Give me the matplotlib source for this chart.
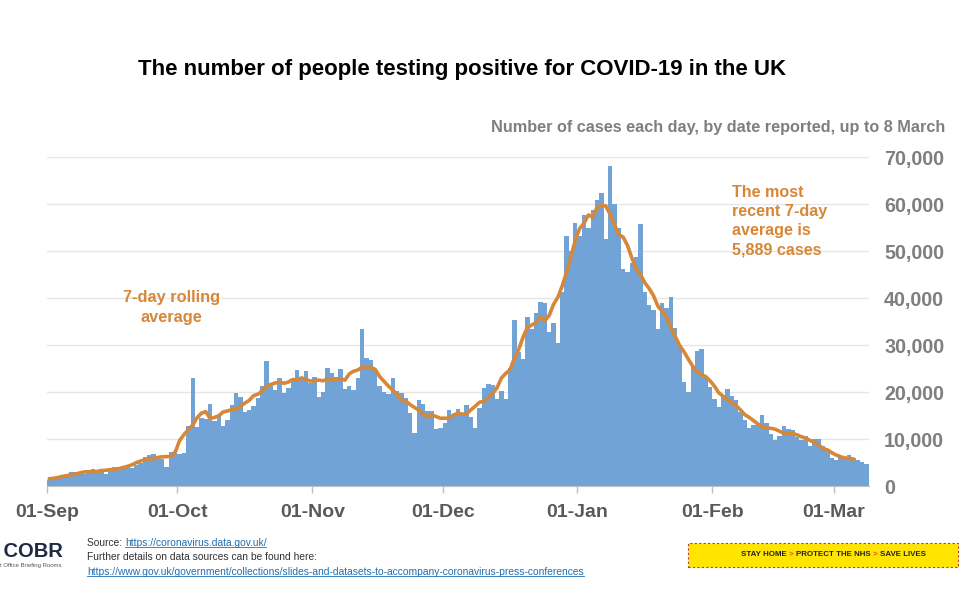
import numpy as np
import pandas as pd
import matplotlib.pyplot as plt
from matplotlib.patches import Rectangle

plt.rcParams['font.family'] = ['Liberation Sans', 'DejaVu Sans']

# Daily cases by date reported, 1 Sep 2020 - 8 Mar 2021
aug_tail = [1108, 1715, 1406]  # only used for the centred average at the start
sep = [1295, 1508, 1735, 1940, 1813, 2988, 2948, 2460, 2659, 2919,
       3539, 3497, 3330, 2621, 3105, 3991, 3395, 4322, 4422, 3899,
       4368, 4926, 6178, 6634, 6874, 6042, 5693, 4044, 7143, 7108]
oct_ = [6914, 6968, 12872, 22961, 12594, 14542, 14162, 17540, 13864, 15166,
        12872, 13972, 17234, 19724, 18980, 15650, 16171, 16982, 18804, 21331,
        26688, 21242, 20530, 23012, 19790, 20890, 22885, 24701, 23065, 24405,
        21915]
nov = [23254, 18950, 20018, 25177, 24141, 23287, 24957, 20572, 21350, 20412,
       22950, 33470, 27301, 26860, 24962, 21363, 20051, 19609, 22915, 20252,
       19875, 18662, 15450, 11299, 18213, 17555, 16022, 15871, 12155, 12330]
dec = [13430, 16170, 14879, 16298, 15539, 17272, 14718, 12282, 16578, 20964,
       21672, 21502, 18447, 20263, 18450, 25161, 35383, 28507, 27052, 35928,
       33364, 36804, 39237, 39036, 32725, 34693, 30501, 41385, 53135, 50023,
       55892]
jan = [53285, 57725, 54990, 58784, 60916, 62322, 52618, 68053, 59937, 54940,
       46169, 45533, 47525, 48682, 55761, 41346, 38598, 37535, 33355, 38905,
       37892, 40261, 33552, 30004, 22195, 20089, 25308, 28680, 29079, 23275,
       21088]
feb = [18607, 16840, 19202, 20634, 19114, 18262, 15845, 14104, 12364, 13013,
       13494, 15144, 13308, 10972, 9765, 10625, 12718, 12057, 12027, 10406,
       9834, 10641, 8489, 9938, 9985, 8523, 7434, 6035]
mar = [5455, 6391, 5766, 6573, 6040, 5534, 5177, 4712]

month_labels = ['01-Sep', '01-Oct', '01-Nov', '01-Dec', '01-Jan', '01-Feb', '01-Mar']
months = [sep, oct_, nov, dec, jan, feb, mar]

cases = np.array(sum(months, []))
n = len(cases)
x = np.arange(n)
month_starts = np.cumsum([0] + [len(m) for m in months[:-1]])

# centred 7-day rolling average
full = pd.Series(aug_tail + list(cases))
avg = full.rolling(7, center=True).mean().values[len(aug_tail):]

bar_color = '#72A3D6'
line_color = '#D68737'
grey = '#7F7F7F'
link = '#1F6FB5'

fig = plt.figure(figsize=(9.6, 6), dpi=100)
ax = fig.add_axes([0.049, 0.19, 0.856, 0.548])

ax.bar(x, cases, width=1.0, align='edge', color=bar_color, linewidth=0, zorder=2)
ax.plot(x + 0.5, avg, color=line_color, linewidth=2.6, zorder=3, solid_capstyle='round')

ax.set_xlim(0, n)
ax.set_ylim(0, 70000)
ax.set_yticks(range(0, 70001, 10000))
ax.set_yticklabels([f'{v:,}' for v in range(0, 70001, 10000)])
ax.yaxis.tick_right()
ax.tick_params(axis='y', length=0, pad=11, labelsize=14.2, labelcolor=grey)
ax.set_xticks(month_starts)
ax.set_xticklabels(month_labels)
ax.tick_params(axis='x', length=5, width=1, color='#BFBFBF', pad=8,
               labelsize=14, labelcolor='#595959')
for lab in ax.get_xticklabels() + ax.get_yticklabels():
    lab.set_fontweight('bold')

ax.grid(axis='y', color='#E6E6E6', linewidth=1, zorder=0)
ax.set_axisbelow(True)
for s in ['top', 'left', 'right']:
    ax.spines[s].set_visible(False)
ax.spines['bottom'].set_color('#BFBFBF')

# titles
fig.text(0.481, 0.885, 'The number of people testing positive for COVID-19 in the UK',
         ha='center', va='center', fontsize=16, fontweight='bold', color='black')
fig.text(0.985, 0.788, 'Number of cases each day, by date reported, up to 8 March',
         ha='right', va='center', fontsize=11.7, fontweight='bold', color=grey)

# annotations
ax.text(28.7, 38000, '7-day rolling\naverage', ha='center', va='center',
        fontsize=11.8, fontweight='bold', color=line_color, linespacing=1.45)
ax.text(157.5, 56400, 'The most\nrecent 7-day\naverage is\n5,889 cases', ha='left',
        va='center', fontsize=11.6, fontweight='bold', color=line_color, linespacing=1.36)

# footer
fig.text(0.066, 0.081, 'The COBR', ha='right', va='center', fontsize=14.5,
         fontweight='bold', color='#1F2A44')
fig.text(0.064, 0.057, 'Cabinet Office Briefing Rooms', ha='right', va='center',
         fontsize=4.3, color='#555555')
fig.text(0.091, 0.095, 'Source: ', ha='left', va='center', fontsize=7.4, color='#333333')
src = fig.text(0.130, 0.095, 'https://coronavirus.data.gov.uk/', ha='left', va='center',
               fontsize=7.4, color=link)
fig.text(0.091, 0.071, 'Further details on data sources can be found here:', ha='left',
         va='center', fontsize=7.4, color='#333333')
url = fig.text(0.091, 0.046,
               'https://www.gov.uk/government/collections/slides-and-datasets-to-accompany-coronavirus-press-conferences',
               ha='left', va='center', fontsize=7.4, color=link)

renderer = fig.canvas.get_renderer()
inv = fig.transFigure.inverted()
for t in (src, url):
    bb = t.get_window_extent(renderer)
    (x0, y0), (x1, _) = inv.transform([(bb.x0, bb.y0 + 1.5), (bb.x1, bb.y1)])
    fig.add_artist(plt.Line2D([x0, x1], [y0, y0], color=link, linewidth=0.6))

# banner
fig.add_artist(Rectangle((0.717, 0.055), 0.281, 0.04, transform=fig.transFigure,
                         facecolor='#FFE500', edgecolor='#C0392B', linewidth=0.8,
                         linestyle=(0, (2, 2))))
parts = [('STAY HOME ', '#222222'), ('> ', '#E8501F'), ('PROTECT THE NHS ', '#222222'),
         ('> ', '#E8501F'), ('SAVE LIVES', '#222222')]
narrow = ['Liberation Sans Narrow', 'Liberation Sans']
texts = [fig.text(0, 0.075, p, ha='left', va='center', fontsize=5.7, fontweight='bold',
                  color=c, family=narrow) for p, c in parts]
widths = [inv.transform([(t.get_window_extent(renderer).width, 0)])[0][0]
          - inv.transform([(0, 0)])[0][0] for t in texts]
px = 0.8685 - sum(widths) / 2
for t, w in zip(texts, widths):
    t.set_x(px)
    px += w

fig.savefig('out.png', dpi=100)
